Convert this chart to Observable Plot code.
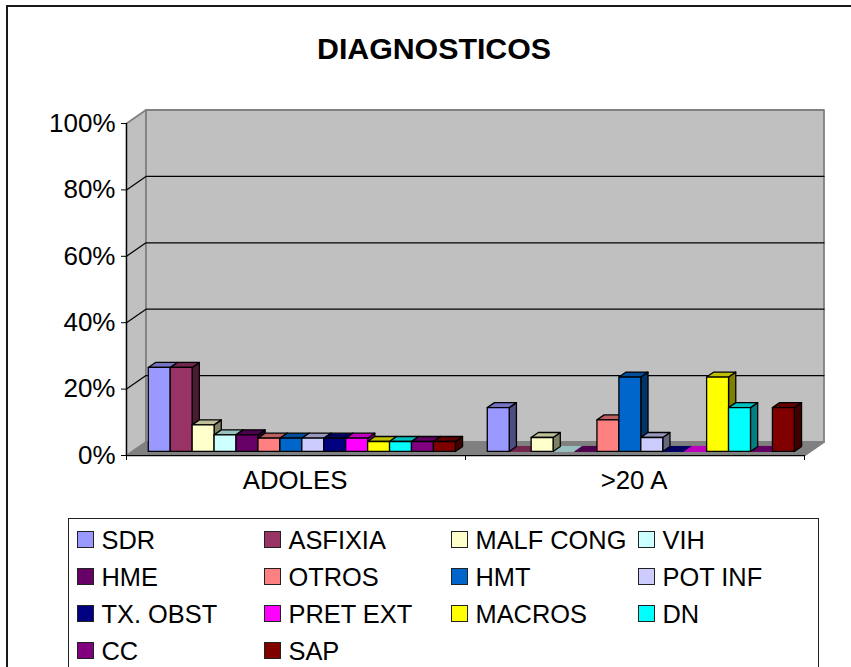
<!DOCTYPE html>
<html>
<head>
<meta charset="utf-8">
<script src="https://cdn.jsdelivr.net/npm/d3@7"></script>
<script src="https://cdn.jsdelivr.net/npm/@observablehq/plot@0.6"></script>
<style>
  html, body { margin: 0; padding: 0; background: #fff; overflow: hidden; }
  body { position: relative; width: 851px; height: 667px; font-family: "Liberation Sans", Arial, sans-serif; color: #000; overflow: hidden; }
  #frame { position: absolute; left: 6px; top: 5px; width: 900px; height: 800px; border: 2px solid #1a1a1a; box-sizing: border-box; }
  #title { position: absolute; left: 0; width: 868px; top: 33px; text-align: center; font-size: 30.3px; font-weight: bold; line-height: 32px; }
  #chart { position: absolute; left: 0; top: 0; }
  #legend { position: absolute; left: 68px; top: 518px; width: 751px; height: 200px; border: 1.5px solid #222; box-sizing: border-box; background: #fff; }
  .item { position: absolute; height: 28px; line-height: 28px; font-size: 25.4px; white-space: nowrap; }
  .sw { position: absolute; left: 0; top: 5px; width: 17px; height: 17px; border: 1px solid #222; box-sizing: border-box; }
  .lb { position: absolute; left: 24.5px; top: 0; }
</style>
</head>
<body>
<div id="frame"></div>
<div id="title">DIAGNOSTICOS</div>
<div id="chart"></div>
<div id="legend"></div>
<script>
const categories = ["ADOLES", ">20 A"];
const seriesNames = ["SDR","ASFIXIA","MALF CONG","VIH","HME","OTROS","HMT","POT INF","TX. OBST","PRET EXT","MACROS","DN","CC","SAP"];
const seriesColors = ["#9999FF","#993366","#FFFFCC","#CCFFFF","#660066","#FF8080","#0066CC","#CCCCFF","#000080","#FF00FF","#FFFF00","#00FFFF","#800080","#800000"];
const adoles = [25.3,25.3,8,5,5,4,4,4,4,4,3,3,3,3];
const mayores = [13.2,0,4.2,0,0,9.5,22.4,4.2,0,0,22.4,13.2,0,13.2];
const yTicks = [0,20,40,60,80,100];
const seriesValues = [adoles, mayores];

// Oblique projection, expressed in data units of the x (category) and y (%) scales.
const depthX = 0.0575, depthY = 4.07;
const groupStart = 0.047, barWidth = 0.0647;
const barDepth0 = 0.3, barDepth1 = 0.67;

function shade(c, k) { const r = d3.rgb(c); return d3.rgb(r.r * k, r.g * k, r.b * k).formatHex(); }
const pt = (x, y, d) => ({x: x + d * depthX, y: y + d * depthY});
let nextId = 0;
function poly(list, pts, fill) {
  const id = nextId++;
  for (const p of [...pts, pts[0]]) list.push({id, x: p.x, y: p.y, fill});
}

const wallPolys = [];
poly(wallPolys, [pt(0,0,0), pt(2,0,0), pt(2,0,1), pt(0,0,1)], "#808080");
poly(wallPolys, [pt(0,0,0), pt(0,0,1), pt(0,100,1), pt(0,100,0)], "#C0C0C0");
poly(wallPolys, [pt(0,0,1), pt(2,0,1), pt(2,100,1), pt(0,100,1)], "#C0C0C0");

const gridRows = [];
yTicks.slice(1, -1).forEach((v, i) => {
  for (const p of [pt(0,v,0), pt(0,v,1), pt(2,v,1)]) gridRows.push({id: i, x: p.x, y: p.y});
});

const flatTops = [], barPolys = [];
seriesValues.forEach((vals, c) => {
  vals.forEach((v, s) => {
    const x0 = c + groupStart + s * barWidth, x1 = x0 + barWidth;
    const col = seriesColors[s], top = shade(col, 0.75), side = shade(col, 0.5);
    if (v === 0) {
      poly(flatTops, [pt(x0,0,barDepth0), pt(x1,0,barDepth0), pt(x1,0,barDepth1), pt(x0,0,barDepth1)], top);
      return;
    }
    poly(barPolys, [pt(x1,0,barDepth0), pt(x1,0,barDepth1), pt(x1,v,barDepth1), pt(x1,v,barDepth0)], side);
    poly(barPolys, [pt(x0,v,barDepth0), pt(x1,v,barDepth0), pt(x1,v,barDepth1), pt(x0,v,barDepth1)], top);
    poly(barPolys, [pt(x0,0,barDepth0), pt(x1,0,barDepth0), pt(x1,v,barDepth0), pt(x0,v,barDepth0)], col);
  });
});

const chart = Plot.plot({
  width: 851, height: 667,
  marginLeft: 126, marginRight: 47, marginTop: 123, marginBottom: 212,
  style: {fontFamily: '"Liberation Sans", Arial, sans-serif', background: "transparent", overflow: "visible"},
  x: {domain: [0, 2], axis: null, label: null},
  y: {domain: [0, 100], axis: null, label: null},
  color: {type: "identity"},
  marks: [
    Plot.line(wallPolys, {x: "x", y: "y", z: "id", fill: "fill", stroke: "#808080", strokeWidth: 1.8}),
    Plot.line(gridRows, {x: "x", y: "y", z: "id", stroke: "#000", strokeWidth: 1.2}),
    Plot.line(flatTops, {x: "x", y: "y", z: "id", fill: "fill", stroke: "fill", strokeWidth: 1}),
    Plot.line(barPolys, {x: "x", y: "y", z: "id", fill: "fill", stroke: "#000", strokeWidth: 1.3}),
    Plot.ruleX([0], {y1: 0, y2: 100, stroke: "#000", strokeWidth: 1.2}),
    Plot.ruleY([0], {x1: 0, x2: 2, stroke: "#000", strokeWidth: 1.2}),
    Plot.axisY({ticks: yTicks, tickFormat: d => d + "%", tickSize: 5, tickPadding: 6, fontSize: 26, anchor: "left", stroke: "#000", color: "#000", label: null}),
    Plot.axisX({ticks: [0, 1, 2], tickFormat: () => "", tickSize: 5, anchor: "bottom", stroke: "#000", label: null}),
    Plot.axisX({ticks: [0.5, 1.5], tickFormat: d => categories[Math.floor(d)], tickSize: 0, tickPadding: 15, fontSize: 25.8, dx: -1, anchor: "bottom", stroke: "none", fill: "#000", label: null})
  ]
});
document.getElementById("chart").appendChild(chart);

const legend = document.getElementById("legend");
const colX = [8, 195, 382, 569], rowY = [7, 44, 81, 118];
seriesNames.forEach((name, i) => {
  const el = document.createElement("div");
  el.className = "item";
  el.style.left = colX[i % 4] + "px";
  el.style.top = rowY[Math.floor(i / 4)] + "px";
  el.innerHTML = '<span class="sw" style="background:' + seriesColors[i] + '"></span>';
  const t = document.createElement("span");
  t.className = "lb"; t.textContent = name;
  el.appendChild(t);
  legend.appendChild(el);
});
</script>
</body>
</html>
